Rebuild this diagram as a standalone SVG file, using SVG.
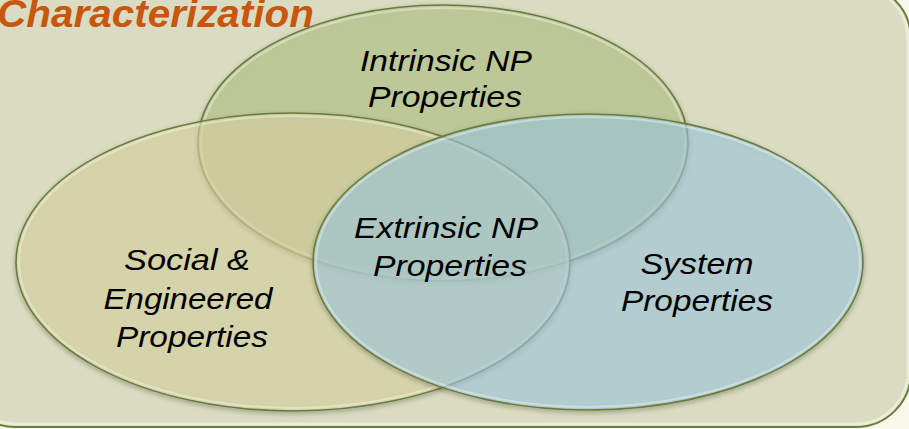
<svg xmlns="http://www.w3.org/2000/svg" width="909" height="429" viewBox="0 0 909 429">
  <defs>
    <filter id="soft" x="-10%" y="-10%" width="120%" height="120%">
      <feGaussianBlur in="SourceAlpha" stdDeviation="2.5"/>
      <feOffset dx="0" dy="2" result="b"/>
      <feComponentTransfer><feFuncA type="linear" slope="0.35"/></feComponentTransfer>
      <feMerge><feMergeNode/><feMergeNode in="SourceGraphic"/></feMerge>
    </filter>
    <style>
      .set { stroke: #6a7d3e; stroke-width: 1.6; }
      .rim { fill: none; stroke: #ffffff; stroke-opacity: 0.35; stroke-width: 2; }
      .lbl { font-family: "Liberation Sans", Arial, sans-serif; font-style: italic; font-size: 30px; fill: #000000; text-anchor: middle; }
      .title { font-family: "Liberation Sans", Arial, sans-serif; font-style: italic; font-weight: bold; font-size: 38px; fill: #c9560f; }
    </style>
  </defs>

  <!-- page and panel -->
  <rect x="0" y="0" width="909" height="429" fill="#faf8ea"/>
  <rect x="-40" y="-16" width="951" height="443" rx="55" ry="55" fill="#d9dcc0" stroke="#6a7d3e" stroke-width="2"/>
  <rect x="-37" y="-13" width="945" height="437" rx="52" ry="52" fill="none" stroke="#f3f3e2" stroke-opacity="0.7" stroke-width="3"/>

  <text class="title" x="-3" y="27" textLength="317" lengthAdjust="spacingAndGlyphs">Characterization</text>

  <g id="connectors"/>

  <!-- intrinsic set -->
  <g id="intrinsic" filter="url(#soft)">
    <ellipse class="set" cx="443" cy="143" rx="245" ry="138" fill="#bccb92" fill-opacity="0.7"/>
    <ellipse class="rim" cx="443" cy="143" rx="242" ry="135"/>
  </g>

  <!-- social & engineered set -->
  <g id="social" filter="url(#soft)">
    <ellipse class="set" cx="293" cy="262" rx="277" ry="149" fill="#e2daa8" fill-opacity="0.55"/>
    <ellipse class="rim" cx="293" cy="262" rx="274" ry="146"/>
  </g>

  <!-- system set -->
  <g id="system" filter="url(#soft)">
    <ellipse class="set" cx="588" cy="262" rx="275" ry="148" fill="#a6cfe6" fill-opacity="0.55"/>
    <ellipse class="rim" cx="588" cy="262" rx="272" ry="145"/>
  </g>

  <!-- labels -->
  <g id="intrinsic-label">
    <text class="lbl" x="446" y="71" textLength="172" lengthAdjust="spacingAndGlyphs">Intrinsic NP</text>
    <text class="lbl" x="445" y="107" textLength="154" lengthAdjust="spacingAndGlyphs">Properties</text>
  </g>
  <g id="extrinsic">
    <text class="lbl" x="446" y="238" textLength="184" lengthAdjust="spacingAndGlyphs">Extrinsic NP</text>
    <text class="lbl" x="450" y="276" textLength="154" lengthAdjust="spacingAndGlyphs">Properties</text>
  </g>
  <g id="social-label">
    <text class="lbl" x="187" y="270" textLength="126" lengthAdjust="spacingAndGlyphs">Social &amp;</text>
    <text class="lbl" x="188" y="309" textLength="169" lengthAdjust="spacingAndGlyphs">Engineered</text>
    <text class="lbl" x="192" y="347" textLength="152" lengthAdjust="spacingAndGlyphs">Properties</text>
  </g>
  <g id="system-label">
    <text class="lbl" x="697" y="274" textLength="113" lengthAdjust="spacingAndGlyphs">System</text>
    <text class="lbl" x="697" y="311" textLength="152" lengthAdjust="spacingAndGlyphs">Properties</text>
  </g>
</svg>
